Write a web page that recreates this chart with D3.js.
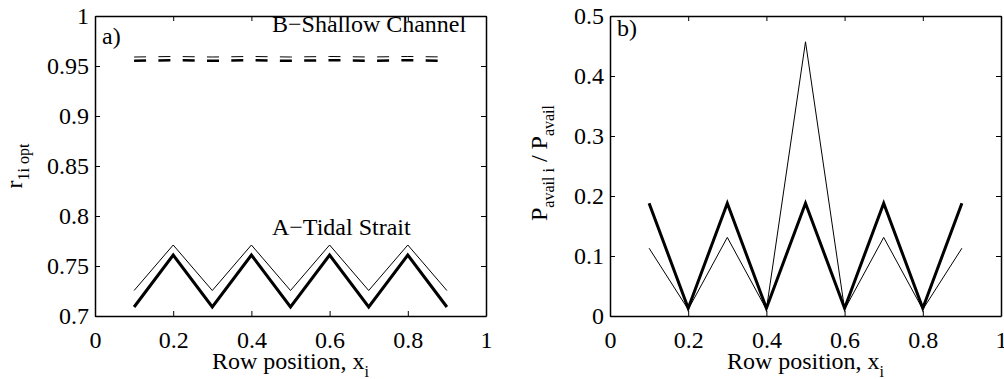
<!DOCTYPE html>
<html>
<head>
<meta charset="utf-8">
<script src="https://d3js.org/d3.v7.min.js"></script>
<style>
  body { margin: 0; background: #fff; }
  svg text { font-family: "Liberation Serif", "Times New Roman", serif; fill: #000; }
</style>
</head>
<body>
<svg id="fig" width="1004" height="379"></svg>
<script>
// row positions
const rows = [0.1, 0.2, 0.3, 0.4, 0.5, 0.6, 0.7, 0.8, 0.9];

// panel a) r_1i opt
const tidalThin   = [0.7255, 0.771, 0.7255, 0.771, 0.7255, 0.771, 0.7255, 0.771, 0.7255];
const tidalThick  = [0.709, 0.761, 0.709, 0.761, 0.709, 0.761, 0.709, 0.761, 0.709];
const shallowThin  = [0.9590, 0.9595, 0.9590, 0.9595, 0.9590, 0.9595, 0.9590, 0.9595, 0.9590];
const shallowThick = [0.9552, 0.9558, 0.9552, 0.9558, 0.9552, 0.9558, 0.9552, 0.9558, 0.9552];

// panel b) P_avail i / P_avail
const powerThick = [0.188, 0.013, 0.188, 0.013, 0.188, 0.013, 0.188, 0.013, 0.188];
const powerThin  = [0.113, 0.011, 0.131, 0.011, 0.457, 0.011, 0.131, 0.011, 0.113];

// ticks
const xTicks = [0, 0.2, 0.4, 0.6, 0.8, 1];
const yTicksA = [0.7, 0.75, 0.8, 0.85, 0.9, 0.95, 1];
const yTicksB = [0, 0.1, 0.2, 0.3, 0.4, 0.5];

const svg = d3.select('#fig');

function drawPanel(cfg) {
    const g = svg.append('g')
        .attr('transform', `translate(${cfg.left}, ${cfg.top})`);
    const w = cfg.width, h = cfg.height;

    const xscale = d3.scaleLinear().domain([0, 1]).range([0, w]);
    const yscale = d3.scaleLinear().domain(cfg.ydomain).range([h, 0]);

    const line = vals => d3.line()
        .x((d, i) => xscale(rows[i]))
        .y(d => yscale(d))(vals);

    cfg.series.forEach(s => {
        g.append('path')
            .attr('d', line(s.values))
            .attr('fill', 'none')
            .attr('stroke', '#000')
            .attr('stroke-width', s.width)
            .attr('stroke-linejoin', 'miter')
            .attr('stroke-dasharray', s.dash || null);
    });

    const fmt = d => d3.format('~g')(d);

    g.append('g')
        .attr('transform', `translate(0, ${h})`)
        .call(d3.axisBottom(xscale).tickValues(xTicks).tickFormat(fmt)
            .tickSizeInner(-5).tickSizeOuter(0).tickPadding(15));
    g.append('g')
        .call(d3.axisTop(xscale).tickValues(xTicks).tickFormat('')
            .tickSizeInner(-5).tickSizeOuter(0));
    g.append('g')
        .call(d3.axisLeft(yscale).tickValues(cfg.yticks).tickFormat(fmt)
            .tickSizeInner(-5).tickSizeOuter(0).tickPadding(6));
    g.append('g')
        .attr('transform', `translate(${w}, 0)`)
        .call(d3.axisRight(yscale).tickValues(cfg.yticks).tickFormat('')
            .tickSizeInner(-5).tickSizeOuter(0));

    g.selectAll('.domain').attr('stroke', '#000').attr('stroke-width', 1.5);
    g.selectAll('.tick line').attr('stroke', '#000').attr('stroke-width', 1);
    g.selectAll('.tick text').style('font-size', '24px').attr('fill', '#000');

    // panel letter
    g.append('text')
        .attr('x', 7).attr('y', cfg.letterY)
        .style('font-size', '24px')
        .text(cfg.letter);

    // x label
    const xl = g.append('text')
        .attr('x', w / 2).attr('y', 369 - cfg.top)
        .attr('text-anchor', 'middle')
        .style('font-size', '24px');
    xl.append('tspan').text('Row position, x');
    xl.append('tspan').attr('dy', 8).style('font-size', '16px').text('i');

    return {g, xscale, yscale};
}

const pa = drawPanel({
    left: 95, top: 16, width: 391, height: 300,
    ydomain: [0.7, 1], yticks: yTicksA,
    letter: 'a)', letterY: 28,
    series: [
        {values: tidalThin, width: 1},
        {values: tidalThick, width: 3},
        {values: shallowThin, width: 1, dash: '12,12.3'},
        {values: shallowThick, width: 2.5, dash: '12,12.3'}
    ]
});

pa.g.append('text')
    .attr('x', 177).attr('y', 16)
    .style('font-size', '24px')
    .text('B\u2212Shallow Channel');
pa.g.append('text')
    .attr('x', 177).attr('y', 219)
    .style('font-size', '24px')
    .text('A\u2212Tidal Strait');

const ylA = svg.append('text')
    .attr('transform', 'translate(22, 166) rotate(-90)')
    .attr('text-anchor', 'middle')
    .style('font-size', '24px');
ylA.append('tspan').text('r');
ylA.append('tspan').attr('dy', 7).style('font-size', '16px').text('1i opt');

const pb = drawPanel({
    left: 610, top: 16, width: 391, height: 300,
    ydomain: [0, 0.5], yticks: yTicksB,
    letter: 'b)', letterY: 20,
    series: [
        {values: powerThin, width: 1},
        {values: powerThick, width: 3}
    ]
});

const ylB = svg.append('text')
    .attr('transform', 'translate(547, 163) rotate(-90)')
    .attr('text-anchor', 'middle')
    .style('font-size', '24px');
ylB.append('tspan').text('P');
ylB.append('tspan').attr('dy', 7).style('font-size', '16px').text('avail i');
ylB.append('tspan').attr('dy', -7).text(' / P');
ylB.append('tspan').attr('dy', 7).style('font-size', '16px').text('avail');
</script>
</body>
</html>
